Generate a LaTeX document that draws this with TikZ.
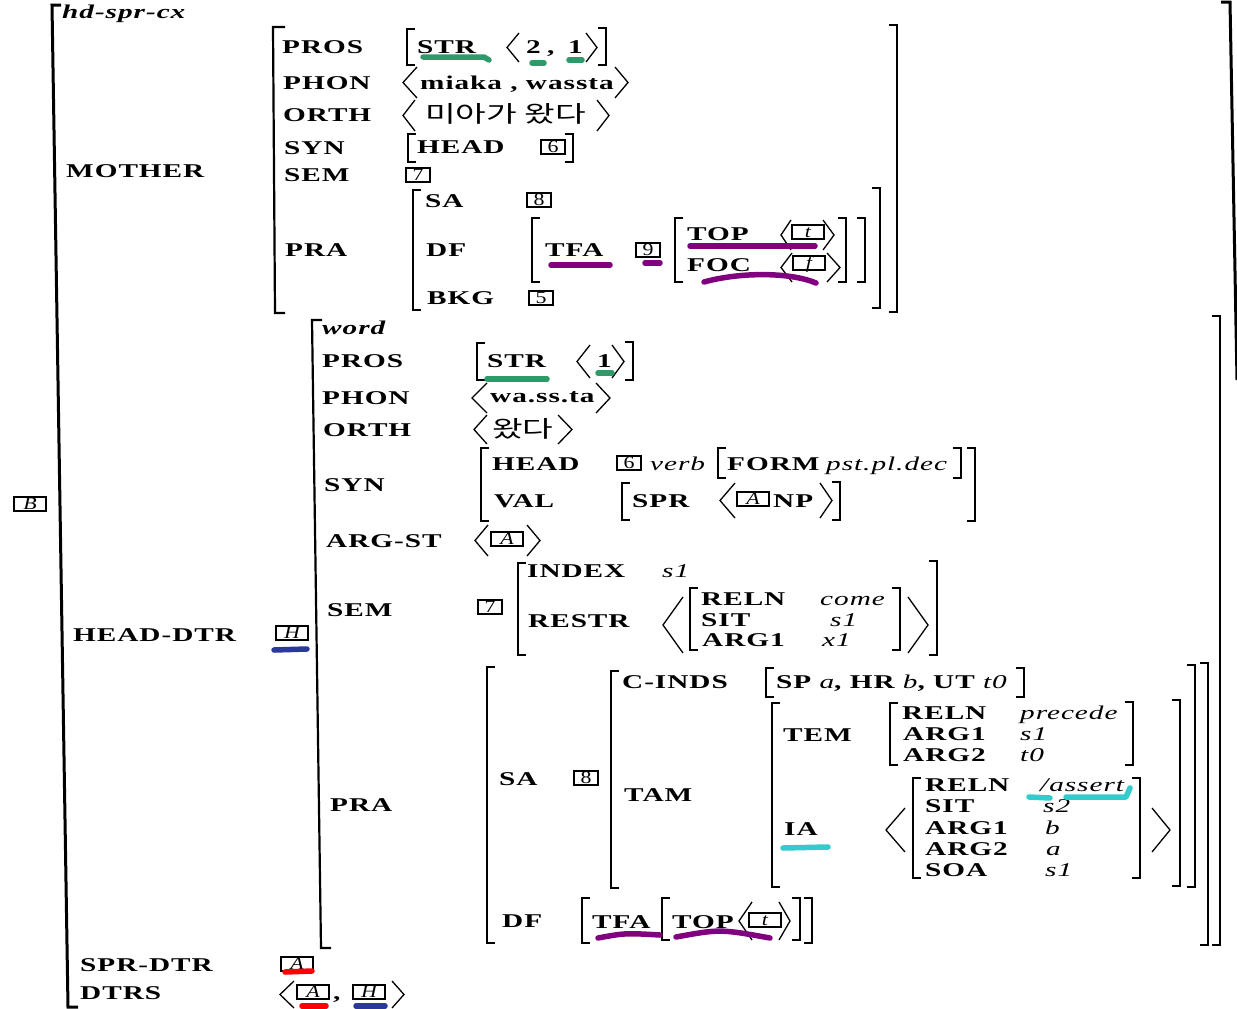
\documentclass[tikz,border=0pt]{standalone}
\usepackage{fontspec}
\setmainfont{Liberation Serif}[FakeStretch=1.5,LetterSpace=5]
\newfontfamily\kor{Noto Sans CJK KR}[FakeStretch=1.45]
\newfontfamily\tagface{Liberation Serif}[FakeStretch=1.25]
\newcommand\keyfont{\fontsize{19.5}{22}\selectfont\bfseries}
\newcommand\valfont{\fontsize{19.5}{22}\selectfont\mdseries\itshape}
\newcommand\tagfont{\tagface\fontsize{17.5}{17.5}\selectfont}
\newcommand\korfont{\fontsize{23}{25}\selectfont\kor}
\definecolor{hlgreen}{HTML}{2E9A6A}
\definecolor{hlpurple}{HTML}{800080}
\definecolor{hlblue}{HTML}{2B3A9A}
\definecolor{hlred}{HTML}{FF0000}
\definecolor{hlcyan}{HTML}{33CCCC}
\tikzset{
  lbl/.style={anchor=base west, inner sep=0pt, font=\keyfont},
  val/.style={anchor=base west, inner sep=0pt, font=\valfont},
  kr/.style={anchor=base west, inner sep=0pt, font=\korfont},
  tag/.style={draw, line width=1.2pt, inner sep=0pt, minimum width=24pt,
              minimum height=14pt, text height=11pt, text depth=0pt, font=\tagfont},
  brk/.style={line width=2.2pt},
  obrk/.style={line width=3pt},
  ang/.style={line width=1.3pt},
  hl/.style={line width=5.5pt, line cap=round, line join=round},
}
% square brackets: x, top, bottom
\newcommand\LB[3]{\draw[brk] (#1+8,#2) -- (#1,#2) -- (#1,#3) -- (#1+8,#3);}
\newcommand\RB[3]{\draw[brk] (#1-8,#2) -- (#1,#2) -- (#1,#3) -- (#1-8,#3);}
% angle brackets: tip x, open x, top, bottom
\newcommand\AN[4]{\draw[ang] (#2,#3) -- (#1,{(#3+#4)/2}) -- (#2,#4);}
% feature names, values, tags
\newcommand\K[4]{\node[lbl] (#1) at (#2,#3) {#4};}
\newcommand\V[4]{\node[val] (#1) at (#2,#3) {#4};}
\newcommand\TG[4]{\node[tag] (#1) at (#2,#3) {#4};}
\newcommand\TL[4]{\node[tag,minimum width=32pt] (#1) at (#2,#3) {\itshape #4};}
\begin{document}
\begin{tikzpicture}[x=1pt,y=-1pt]
\useasboundingbox (0,0) rectangle (1237,1009);
\fill[white] (0,0) rectangle (1237,1009);

% ---------- outermost matrix ----------
\draw[obrk] (61,5) -- (52,5) -- (68,1007) -- (78,1007);
\draw[obrk] (1221,2) -- (1230,2) -- (1237,380);
\node[lbl,font=\keyfont\itshape] (type) at (62,19) {hd-spr-cx};
\TL{tagB}{30}{504}{B}

% ---------- MOTHER ----------
\K{mother}{66}{177}{MOTHER}
\draw[brk] (285,27) -- (273,27) -- (275,313) -- (285,313);
\RB{897}{25}{312}
\K{mpros}{282}{53}{PROS}
\K{mphon}{283}{89}{PHON}
\K{morth}{283}{121}{ORTH}
\K{msyn}{284}{154}{SYN}
\K{msem}{284}{181}{SEM}
\K{mpra}{285}{256}{PRA}
% PROS value
\LB{407}{29}{65}
\K{mstr}{417}{53}{STR}
\AN{507}{519}{33}{62}
\K{mtwo}{526}{53}{2}
\K{mcomma}{547}{53}{,}
\K{mone}{568}{53}{1}
\AN{597}{586}{33}{62}
\RB{606}{28}{65}
% PHON value
\AN{403}{417}{67}{98}
\K{mphonv}{420}{89}{miaka , wassta}
\AN{628}{615}{67}{98}
% ORTH value
\AN{403}{415}{100}{131}
\node[kr] (morthv) at (425,122) {미아가 왔다};
\AN{609}{597}{100}{131}
% SYN value
\LB{408}{134}{162}
\K{mhead}{417}{153}{HEAD}
\TG{mtag6}{553}{147}{6}
\RB{573}{134}{162}
% SEM value
\TG{mtag7}{418}{175}{7}
% PRA value
\LB{413}{190}{310}
\RB{880}{188}{308}
\K{msa}{425}{207}{SA}
\TG{mtag8}{539}{200}{8}
\K{mdf}{426}{256}{DF}
\K{mbkg}{427}{304}{BKG}
\TG{mtag5}{541}{298}{5}
\LB{532}{218}{282}
\K{mtfa}{545}{256}{TFA}
\TG{mtag9}{648}{250}{9}
\LB{675}{218}{282}
\K{mtop}{687}{240}{TOP}
\AN{781}{791}{220}{250}
\TL{mtagt}{808}{232}{t}
\AN{834}{823}{220}{250}
\K{mfoc}{687}{271}{FOC}
\AN{781}{792}{253}{282}
\TL{mtagf}{809}{263}{f}
\AN{840}{827}{253}{282}
\RB{846}{218}{282}
\RB{865}{218}{282}

% ---------- HEAD-DTR ----------
\K{headdtr}{73}{641}{HEAD-DTR}
\TL{tagH}{292}{633}{H}
\draw[brk] (322,320) -- (312,320) -- (321,948) -- (331,948);
\RB{1220}{316}{945}
\node[lbl,font=\keyfont\itshape] (word) at (322,334) {word};
\K{hpros}{322}{367}{PROS}
\K{hphon}{322}{404}{PHON}
\K{horth}{323}{436}{ORTH}
\K{hsyn}{324}{491}{SYN}
\K{hargst}{326}{547}{ARG-ST}
\K{hsem}{327}{616}{SEM}
\K{hpra}{330}{811}{PRA}
% PROS value
\LB{477}{343}{380}
\K{hstr}{487}{367}{STR}
\AN{577}{590}{345}{378}
\K{hone}{597}{367}{1}
\AN{624}{612}{345}{378}
\RB{633}{342}{380}
% PHON value
\AN{472}{487}{383}{413}
\K{hphonv}{490}{402}{wa.ss.ta}
\AN{610}{596}{383}{413}
% ORTH value
\AN{474}{487}{415}{444}
\node[kr] (horthv) at (492,437) {왔다};
\AN{572}{558}{415}{444}
% SYN value
\LB{481}{448}{521}
\K{hhead}{492}{470}{HEAD}
\TG{htag6}{629}{463}{6}
\V{hverb}{650}{470}{verb}
\LB{718}{448}{478}
\K{hform}{727}{470}{FORM}
\V{hformv}{826}{470}{pst.pl.dec}
\RB{961}{448}{478}
\K{hval}{494}{507}{VAL}
\LB{622}{483}{520}
\K{hspr}{632}{507}{SPR}
\AN{720}{735}{483}{518}
\TL{htagA}{753}{499}{A}
\K{hnp}{773}{507}{NP}
\AN{832}{820}{483}{518}
\RB{840}{482}{520}
\RB{975}{448}{521}
% ARG-ST value
\AN{475}{488}{525}{556}
\TL{htagA2}{507}{539}{A}
\AN{540}{527}{525}{556}
% SEM value
\TG{htag7}{490}{607}{7}
\LB{518}{563}{655}
\K{hindex}{527}{577}{INDEX}
\V{hindexv}{662}{577}{s1}
\K{hrestr}{528}{627}{RESTR}
\AN{663}{683}{597}{653}
\LB{690}{588}{650}
\K{hreln}{701}{605}{RELN}
\V{hrelnv}{820}{605}{come}
\K{hsit}{701}{626}{SIT}
\V{hsitv}{830}{626}{s1}
\K{harga}{702}{646}{ARG1}
\V{hargav}{822}{646}{x1}
\RB{900}{588}{650}
\AN{928}{908}{597}{653}
\RB{937}{561}{655}
% PRA value
\LB{487}{667}{943}
\RB{1208}{663}{945}
\K{hsa}{499}{785}{SA}
\TG{htag8}{586}{778}{8}
\LB{611}{671}{888}
\RB{1195}{665}{887}
\K{hcinds}{622}{688}{C-INDS}
\LB{766}{668}{697}
\K{hcindsv}{776}{688}{SP {\mdseries\itshape a}, HR {\mdseries\itshape b}, UT {\mdseries\itshape t0}}
\RB{1024}{668}{697}
\K{htam}{624}{801}{TAM}
\LB{772}{703}{887}
\RB{1180}{700}{886}
\K{htem}{783}{741}{TEM}
\K{hia}{784}{835}{IA}
% TEM value
\LB{890}{703}{765}
\K{treln}{902}{719}{RELN}
\V{trelnv}{1020}{719}{precede}
\K{targa}{903}{740}{ARG1}
\V{targav}{1020}{740}{s1}
\K{targb}{903}{761}{ARG2}
\V{targbv}{1020}{761}{t0}
\RB{1133}{702}{765}
% IA value
\AN{886}{905}{808}{852}
\LB{913}{778}{878}
\K{ireln}{925}{791}{RELN}
\V{irelnv}{1040}{791}{/assert}
\K{isit}{925}{812}{SIT}
\V{isitv}{1043}{812}{s2}
\K{iarga}{925}{834}{ARG1}
\V{iargav}{1045}{834}{b}
\K{iargb}{925}{855}{ARG2}
\V{iargbv}{1046}{855}{a}
\K{isoa}{925}{876}{SOA}
\V{isoav}{1045}{876}{s1}
\RB{1140}{778}{878}
\AN{1170}{1152}{808}{852}
% DF value
\K{hdf}{502}{927}{DF}
\LB{582}{898}{943}
\K{htfa}{592}{928}{TFA}
\LB{662}{898}{940}
\K{htop}{672}{928}{TOP}
\AN{739}{752}{902}{940}
\TL{htagt}{765}{920}{t}
\AN{790}{779}{902}{940}
\RB{800}{898}{940}
\RB{812}{898}{943}

% ---------- daughters ----------
\K{sprdtr}{80}{971}{SPR-DTR}
\TL{stagA}{297}{964}{A}
\K{dtrs}{80}{999}{DTRS}
\AN{280}{294}{981}{1008}
\TL{dtagA}{313}{992}{A}
\K{dcomma}{333}{999}{,}
\TL{dtagH}{369}{992}{H}
\AN{404}{392}{981}{1008}

% ---------- highlighter strokes ----------
\draw[hl,hlgreen] (423,57) -- (484,57) -- (489,60);
\draw[hl,hlgreen] (532,63) -- (544,63);
\draw[hl,hlgreen] (569,60) -- (582,60);
\draw[hl,hlgreen] (487,379) -- (547,379);
\draw[hl,hlgreen] (598,373) -- (612,373);
\draw[hl,hlpurple] (551,265) -- (610,265);
\draw[hl,hlpurple] (645,263) -- (660,263);
\draw[hl,hlpurple] (690,246) -- (815,246);
\draw[hl,hlpurple] (704,282) .. controls (740,272) and (790,272) .. (816,283);
\draw[hl,hlpurple] (598,938) .. controls (625,933) .. (660,935);
\draw[hl,hlpurple] (676,937) .. controls (720,929) .. (770,938);
\draw[hl,hlblue] (274,650) -- (307,649);
\draw[hl,hlblue] (356,1006) -- (385,1006);
\draw[hl,hlred] (285,972) -- (312,971);
\draw[hl,hlred] (302,1006) -- (326,1006);
\draw[hl,hlcyan] (783,848) -- (828,847);
\draw[hl,hlcyan] (1029,797) -- (1050,798);
\draw[hl,hlcyan] (1066,797) -- (1126,797) -- (1130,788);
\end{tikzpicture}
\end{document}
